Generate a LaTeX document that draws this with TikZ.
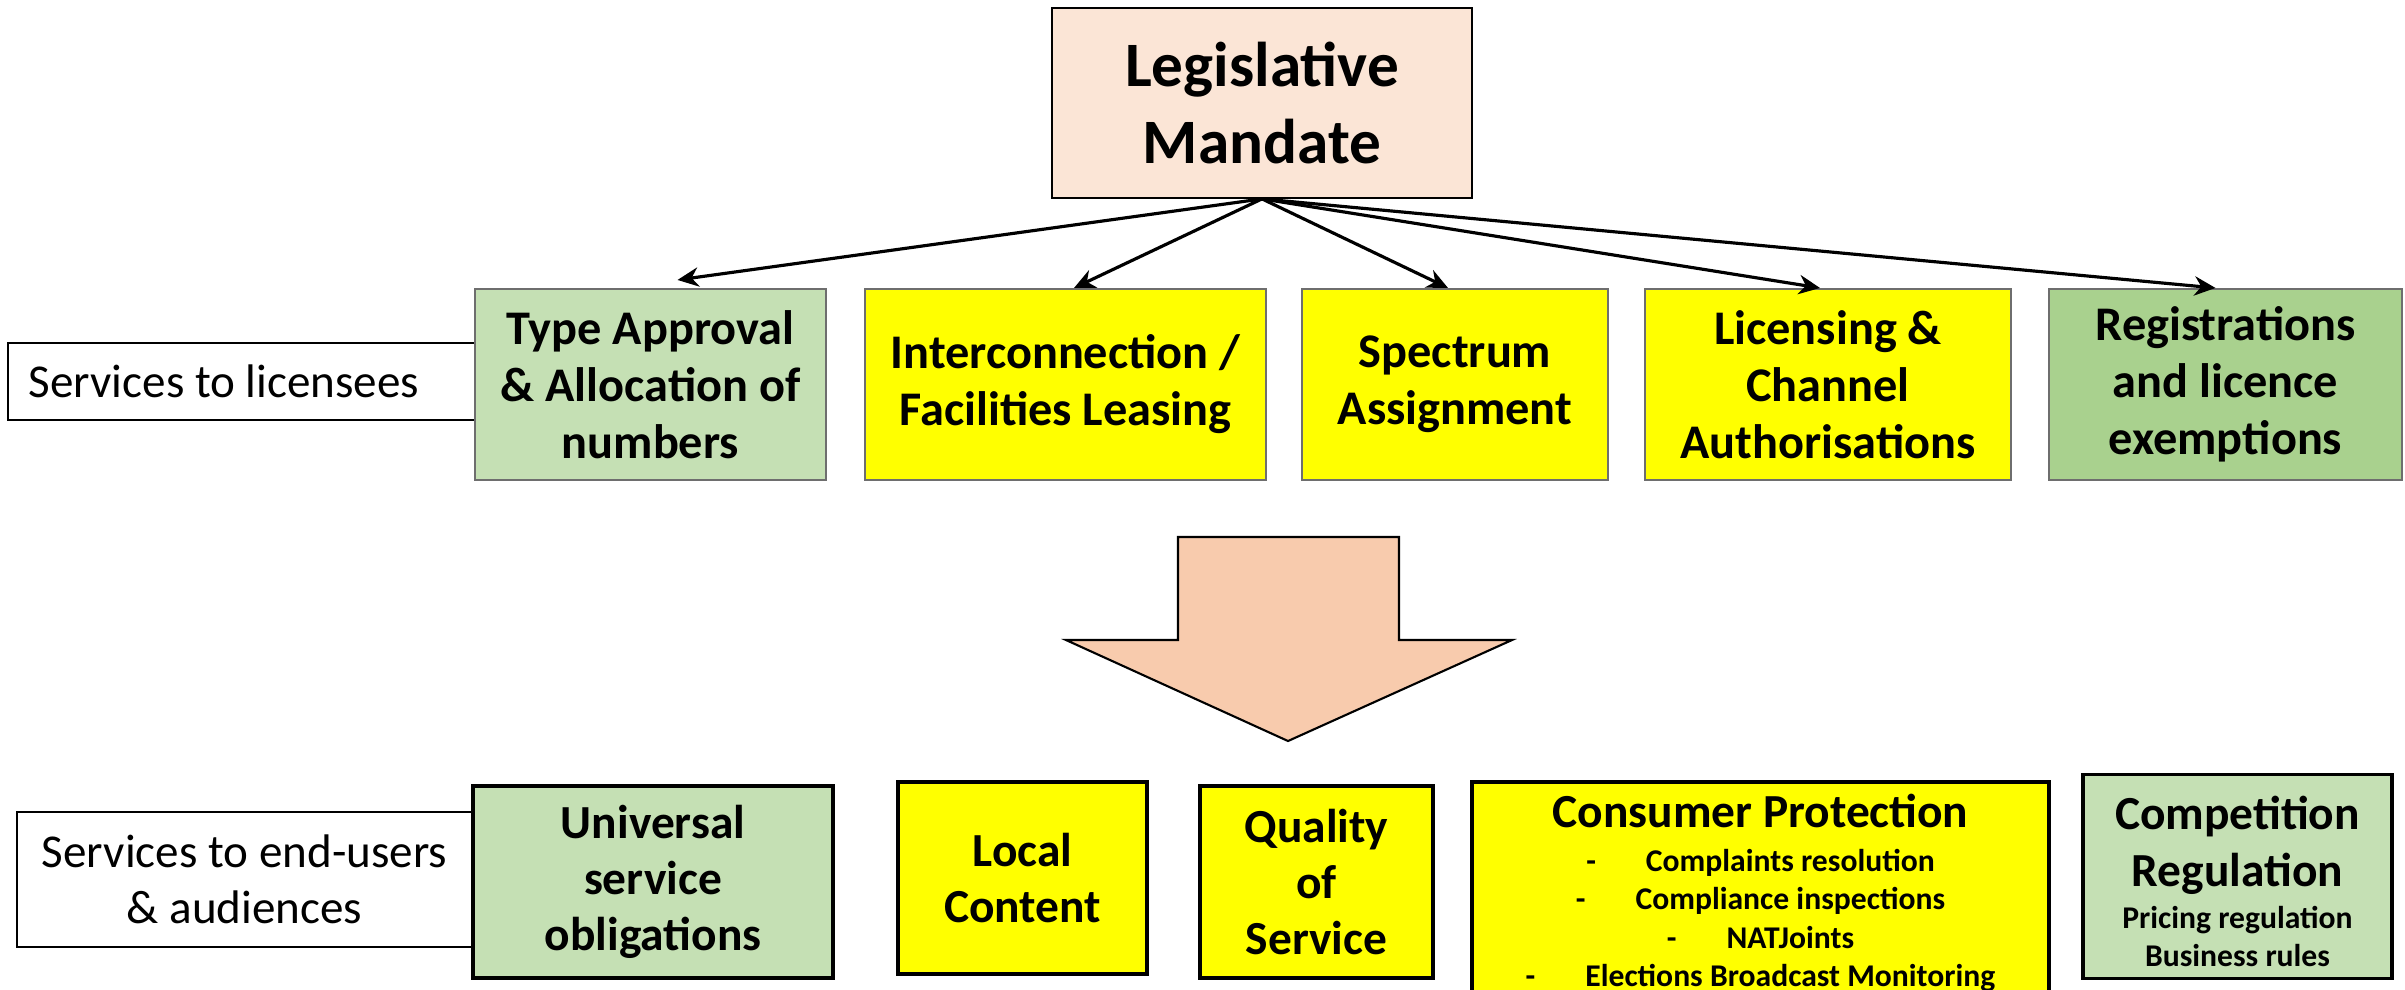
\documentclass[tikz,border=0pt]{standalone}
\usepackage{fontspec}
\setmainfont{Carlito}
\usetikzlibrary{arrows.meta}

\definecolor{peach}{HTML}{FBE5D6}
\definecolor{arrowpeach}{HTML}{F8CBAD}
\definecolor{lightgreen}{HTML}{C5E0B4}
\definecolor{midgreen}{HTML}{A9D18E}
\definecolor{boxyellow}{HTML}{FFFF00}
\definecolor{edgegray}{HTML}{6E6E6E}

\tikzstyle{mandate} = [rectangle, minimum width=4.2cm, minimum height=1.9cm, align=center, draw=black, line width=0.5pt, fill=peach, font=\fontsize{18}{22}\selectfont\bfseries]
\tikzstyle{licbox} = [rectangle, minimum height=1.91cm, align=center, draw=edgegray, line width=0.6pt, font=\fontsize{13.75}{16.2}\selectfont\bfseries]
\tikzstyle{userbox} = [rectangle, minimum height=1.92cm, align=center, draw=black, line width=0.9pt, font=\fontsize{13.5}{16}\selectfont\bfseries]
\tikzstyle{sidelabel} = [rectangle, align=center, draw=black, line width=0.6pt, fill=white, font=\fontsize{13.4}{16}\selectfont]
\tikzstyle{link} = [line width=0.9pt, -{Stealth[length=6pt,width=5.5pt]}]

\newcommand{\consitem}[1]{{\fontsize{9}{10.7}\selectfont -\hspace{0.5cm}#1}}

\begin{document}
\begin{tikzpicture}

    \useasboundingbox (0,0) rectangle (24.05,-9.89);

    % Top
    \node (mandate) [mandate] at (12.62,-1.03) {Legislative\\Mandate};

    % Services to licensees
    \node (svclic) [sidelabel, minimum width=4.68cm, minimum height=0.77cm] at (2.42,-3.815) {\hspace{-0.18cm}Services to licensees\hspace{0.18cm}};
    \node (typeapp) [licbox, fill=lightgreen, minimum width=3.51cm] at (6.505,-3.845) {Type Approval\\\& Allocation of\\numbers};
    \node (intercon) [licbox, fill=boxyellow, minimum width=4.01cm] at (10.655,-3.845) {Interconnection /\\Facilities Leasing};
    \node (spectrum) [licbox, fill=boxyellow, minimum width=3.06cm] at (14.55,-3.845) {Spectrum\\Assignment};
    \node (licensing) [licbox, fill=boxyellow, minimum width=3.66cm] at (18.28,-3.845) {Licensing \&\\Channel\\Authorisations};
    \node (registr) [licbox, fill=midgreen, minimum width=3.53cm] at (22.255,-3.845) {Registrations\\and licence\\exemptions};

    % Arrows from mandate
    \draw [link] (mandate.south) -- ([xshift=0.27cm,yshift=0.08cm]typeapp.north);
    \draw [link] (mandate.south) -- ([xshift=0.085cm]intercon.north);
    \draw [link] (mandate.south) -- ([xshift=-0.07cm]spectrum.north);
    \draw [link] (mandate.south) -- ([xshift=-0.08cm]licensing.north);
    \draw [link] (mandate.south) -- ([xshift=-0.1cm]registr.north);

    % Big arrow
    \draw [fill=arrowpeach, line width=0.6pt] (11.78,-5.37) -- (13.99,-5.37) -- (13.99,-6.40) -- (15.12,-6.40) -- (12.88,-7.41) -- (10.66,-6.40) -- (11.78,-6.40) -- cycle;

    % Services to end-users
    \node (svcusr) [sidelabel, minimum width=4.55cm, minimum height=1.35cm] at (2.445,-8.795) {Services to end-users\\\& audiences};
    \node (universal) [userbox, fill=lightgreen, minimum width=3.60cm] at (6.53,-8.82) {Universal\\service\\obligations};
    \node (local) [userbox, fill=boxyellow, minimum width=2.49cm] at (10.225,-8.78) {Local\\Content};
    \node (quality) [userbox, fill=boxyellow, minimum width=2.33cm] at (13.165,-8.82) {Quality\\of\\Service};
    \node (consumer) [userbox, fill=boxyellow, minimum width=5.77cm, minimum height=2.18cm] at (17.605,-8.93) {Consumer Protection\\[-3.5pt]\consitem{Complaints resolution}\\[-5pt]\consitem{Compliance inspections}\\[-5pt]\consitem{NATJoints}\\[-5pt]\consitem{Elections Broadcast Monitoring}};
    \node (competition) [userbox, fill=lightgreen, minimum width=3.09cm, minimum height=1.91cm] at (22.375,-8.765) {\rule{0pt}{12.5pt}Competition\\Regulation\\[-4pt]{\fontsize{9}{10.7}\selectfont Pricing regulation}\\[-5pt]{\fontsize{9}{10.7}\selectfont Business rules}};

\end{tikzpicture}
\end{document}
